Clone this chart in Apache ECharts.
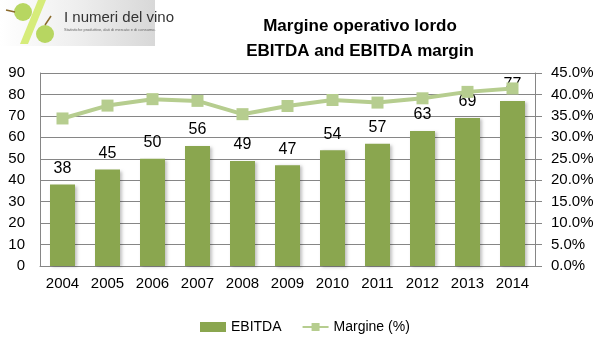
<!DOCTYPE html>
<html>
<head>
<meta charset="utf-8">
<script src="https://cdn.jsdelivr.net/npm/echarts@6/dist/echarts.min.js"></script>
<style>
  html, body { margin: 0; padding: 0; background: #fff; }
  #chart { width: 598px; height: 349px; }
</style>
</head>
<body>
<div id="chart"></div>
<script>
// Years on the category axis
const years = ['2004', '2005', '2006', '2007', '2008', '2009', '2010', '2011', '2012', '2013', '2014'];
// EBITDA (bars, left axis)
const ebitda = [38, 45, 50, 56, 49, 47, 54, 57, 63, 69, 77];
// EBITDA margin in percent (line, right axis)
const margin = [34.4, 37.4, 38.9, 38.5, 35.4, 37.3, 38.7, 38.1, 39.1, 40.6, 41.4];

const chart = echarts.init(document.getElementById('chart'), null, { renderer: 'canvas' });

const axisFont = { fontFamily: 'Liberation Sans, Arial, sans-serif', fontSize: 15, color: '#000' };
const gray = '#868686';

chart.setOption({
  animation: false,
  title: {
    text: 'Margine operativo lordo\nEBITDA and EBITDA margin',
    left: 355,
    top: 9,
    textAlign: 'center',
    textStyle: {
      fontFamily: 'Liberation Sans Narrow, Arial Narrow, Liberation Sans, sans-serif',
      fontWeight: 'bold',
      fontSize: 17,
      lineHeight: 25,
      color: '#000'
    }
  },
  graphic: [
    {
      type: 'rect',
      shape: { x: 0, y: 0, width: 155, height: 46 },
      style: {
        fill: new echarts.graphic.LinearGradient(0, 0, 1, 0, [
          { offset: 0, color: '#ffffff' },
          { offset: 0.5, color: '#eeeeee' },
          { offset: 1, color: '#d8d8d8' }
        ])
      }
    },
    {
      type: 'polygon',
      shape: { points: [[38, 0], [46, 0], [28, 44], [20, 44]] },
      style: { fill: '#d6ec7a' }
    },
    { type: 'circle', shape: { cx: 23, cy: 12, r: 9 }, style: { fill: '#b7d661' } },
    { type: 'circle', shape: { cx: 45, cy: 34, r: 9 }, style: { fill: '#b7d661' } },
    { type: 'line', shape: { x1: 6, y1: 10, x2: 15, y2: 12 }, style: { stroke: '#8a6a2a', lineWidth: 1.5 } },
    { type: 'line', shape: { x1: 45, y1: 25, x2: 51, y2: 16 }, style: { stroke: '#8a6a2a', lineWidth: 1.5 } },
    {
      type: 'text',
      left: 64, top: 10,
      style: { text: 'I numeri del vino', fill: '#333', font: '15px Liberation Sans Narrow, Arial Narrow, sans-serif' }
    },
    {
      type: 'text',
      left: 64, top: 28,
      style: { text: 'Statistiche produttive, dati di mercato e di consumo.', fill: '#666', font: '4px Liberation Sans, sans-serif' }
    }
  ],
  legend: {
    bottom: 10,
    left: 195,
    itemGap: 20,
    itemWidth: 26,
    itemHeight: 10,
    textStyle: { fontFamily: 'Liberation Sans Narrow, Arial Narrow, Liberation Sans, sans-serif', fontSize: 14, color: '#000' },
    data: [
      { name: 'EBITDA', icon: 'rect' },
      { name: 'Margine (%)' }
    ]
  },
  grid: { left: 40, right: 63, top: 73, bottom: 83 },
  xAxis: {
    type: 'category',
    data: years,
    axisLine: { lineStyle: { color: gray } },
    axisTick: { show: false },
    axisLabel: Object.assign({ margin: 10 }, axisFont)
  },
  yAxis: [
    {
      type: 'value',
      min: 0, max: 90, interval: 10,
      axisLine: { show: true, lineStyle: { color: gray } },
      axisTick: { show: false },
      splitLine: { lineStyle: { color: gray } },
      axisLabel: Object.assign({ margin: 15 }, axisFont)
    },
    {
      type: 'value',
      min: 0, max: 45, interval: 5,
      axisLine: { show: true, lineStyle: { color: gray } },
      axisTick: { show: true, length: 7, lineStyle: { color: gray } },
      splitLine: { show: false },
      axisLabel: Object.assign({ margin: 16, formatter: v => v.toFixed(1) + '%' }, axisFont)
    }
  ],
  series: [
    {
      name: 'EBITDA',
      type: 'bar',
      data: ebitda,
      barWidth: 25,
      itemStyle: {
        color: '#8aa64f',
        shadowColor: 'rgba(0,0,0,0.25)',
        shadowBlur: 3,
        shadowOffsetX: 2,
        shadowOffsetY: 1
      },
      label: {
        show: true,
        position: 'top',
        distance: 8,
        fontFamily: 'Liberation Sans, Arial, sans-serif',
        fontSize: 16,
        color: '#000'
      }
    },
    {
      name: 'Margine (%)',
      type: 'line',
      yAxisIndex: 1,
      data: margin,
      symbol: 'rect',
      symbolSize: 12,
      lineStyle: { color: '#b6cd8f', width: 4 },
      itemStyle: { color: '#b6cd8f' },
      z: 3
    }
  ]
});
</script>
</body>
</html>
